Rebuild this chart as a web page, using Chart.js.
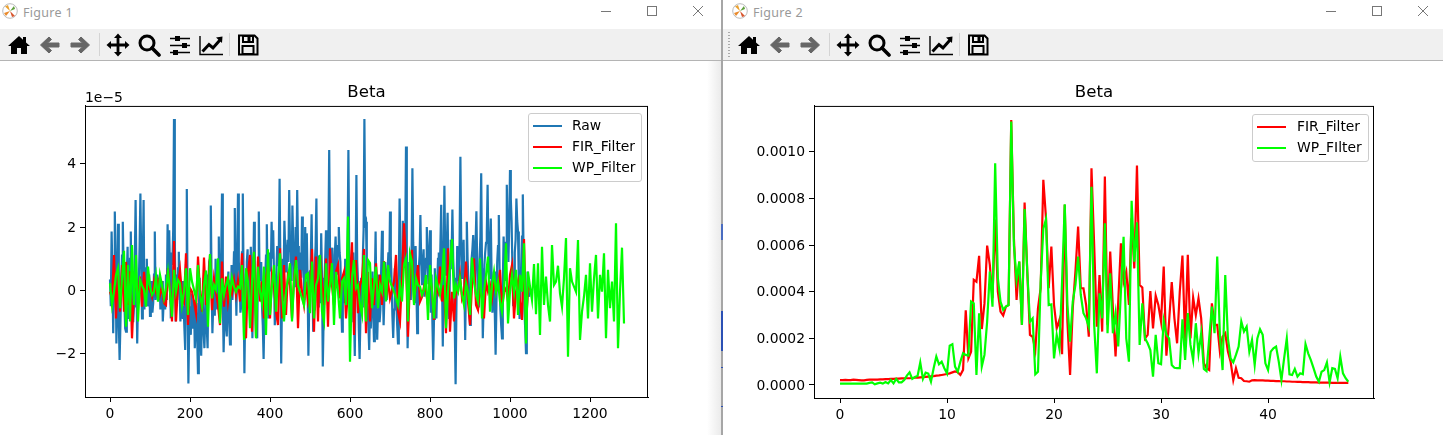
<!DOCTYPE html>
<html>
<head>
<meta charset="utf-8">
<title>Beta</title>
<script src="https://cdn.jsdelivr.net/npm/chart.js@4/dist/chart.umd.min.js"></script>
<style>
  html, body { margin: 0; padding: 0; background: #fff; }
  body { width: 1443px; height: 435px; position: relative; overflow: hidden; font-family: "DejaVu Sans", sans-serif; }
  .abs { position: absolute; }
  canvas { position: absolute; top: 61px; }
  .toolbar { position: absolute; top: 29px; height: 31px; background: #f0f0f0; border-bottom: 1px solid #b4b4b4; }
  .wintitle { position: absolute; top: 4px; font: 12.5px "Noto Sans", sans-serif; color: #999; letter-spacing: .3px; }
  .sep { position: absolute; top: 33px; width: 1px; height: 23px; background: #d4d4d4; }
  .icon { position: absolute; top: 33px; width: 24px; height: 24px; }
  .logo { position: absolute; top: 3px; width: 16px; height: 16px; }
  .ctl { position: absolute; top: 5px; width: 12px; height: 12px; }
  .divider { position: absolute; left: 721px; top: 0; width: 2px; height: 435px; background: #a6a6a6; }
  .shadow { position: absolute; left: 707px; top: 29px; width: 14px; height: 406px; background: linear-gradient(to right, rgba(235,235,235,0), rgba(235,235,235,1)); }
  .grip { position: absolute; left: 728px; top: 32px; width: 2px; height: 26px; background: repeating-linear-gradient(to bottom, #aaa 0 1px, transparent 1px 3px); }
  .legend { position: absolute; background: rgba(255,255,255,.8); border: 1px solid #ccc; border-radius: 3px; box-sizing: border-box; }
  .legend .row { position: absolute; left: 0; right: 0; height: 21px; }
  .legend .swatch { position: absolute; height: 2px; }
  .legend .name { position: absolute; font-size: 13.9px; line-height: 21px; color: #000; white-space: nowrap; }
  .offset { position: absolute; left: 85px; top: 89px; font-size: 13.9px; line-height: 16px; color: #000; }
</style>
</head>
<body>

<svg width="0" height="0" style="position:absolute">
  <symbol id="i-home" viewBox="0 0 24 24"><path d="M12 3 L1 13 L4 13 L4 21 L10 21 L10 15 L14 15 L14 21 L20 21 L20 13 L23 13 L19 9.4 L19 4 L16 4 L16 6.7 Z" fill="#000"/></symbol>
  <symbol id="i-left" viewBox="0 0 24 24"><path d="M11 4 L2.5 12 L11 20 L13.5 17.5 L9.5 14 L21 14 L21 10 L9.5 10 L13.5 6.5 Z" fill="#666" stroke="#666" stroke-linejoin="round"/></symbol>
  <symbol id="i-right" viewBox="0 0 24 24"><path d="M13 4 L21.5 12 L13 20 L10.5 17.5 L14.5 14 L3 14 L3 10 L14.5 10 L10.5 6.5 Z" fill="#666" stroke="#666" stroke-linejoin="round"/></symbol>
  <symbol id="i-move" viewBox="0 0 24 24"><path d="M12 0.5 L16 5 L13.4 5 L13.4 10.6 L19 10.6 L19 8 L23.5 12 L19 16 L19 13.4 L13.4 13.4 L13.4 19 L16 19 L12 23.5 L8 19 L10.6 19 L10.6 13.4 L5 13.4 L5 16 L0.5 12 L5 8 L5 10.6 L10.6 10.6 L10.6 5 L8 5 Z" fill="#000"/></symbol>
  <symbol id="i-zoom" viewBox="0 0 24 24"><circle cx="10" cy="10" r="7" fill="none" stroke="#000" stroke-width="3"/><path d="M15 15 L22 22" stroke="#000" stroke-width="3.6" stroke-linecap="round"/></symbol>
  <symbol id="i-sliders" viewBox="0 0 24 24"><path d="M2 5.5 H22 M2 12.5 H22 M2 19.5 H22" stroke="#000" stroke-width="1.6"/><rect x="7" y="3" width="5" height="5" fill="#000"/><rect x="14" y="10" width="5" height="5" fill="#000"/><rect x="5" y="17" width="5" height="5" fill="#000"/></symbol>
  <symbol id="i-chart" viewBox="0 0 24 24"><path d="M1 3 V21.5 H24" fill="none" stroke="#000" stroke-width="1.4"/><path d="M3.5 18.5 L10 11.5 L14 15 L21 7" fill="none" stroke="#000" stroke-width="3"/><path d="M17 4.5 L23.5 3.5 L23 10 Z" fill="#000"/></symbol>
  <symbol id="i-save" viewBox="0 0 24 24"><path d="M3 2.5 H18.5 L21.5 5.5 V21.5 H3 Z" fill="none" stroke="#000" stroke-width="2"/><rect x="7" y="3" width="10" height="6" fill="none" stroke="#000" stroke-width="2"/><rect x="11.5" y="4" width="3" height="4" fill="#000"/><rect x="6.5" y="13" width="11" height="8" fill="none" stroke="#000" stroke-width="2"/></symbol>
  <symbol id="i-logo" viewBox="0 0 16 16"><circle cx="8" cy="8" r="7.3" fill="#fff" stroke="#bbb"/><path d="M8 8 L3 3.5 L6 2 Z" fill="#e8a030"/><path d="M8 8 L13 6 L12 3 Z" fill="#5fa03c"/><path d="M8 8 L2 10 L4 13 Z" fill="#e98a2c"/><path d="M8 8 L13 13 L10 14 Z" fill="#d8552c"/></symbol>
</svg>

<div class="shadow"></div>
<div class="toolbar" style="left:0;width:721px"></div>
<div class="toolbar" style="left:723px;width:720px"></div>
<div class="divider"></div>
<div class="abs" style="left:721px;top:224px;width:2px;height:16px;background:#4a6cc0"></div>
<div class="abs" style="left:721px;top:311px;width:2px;height:40px;background:#2b50b4"></div>
<div class="abs" style="left:721px;top:367px;width:2px;height:1px;background:#2b50b4"></div>
<div class="abs" style="left:721px;top:406px;width:2px;height:1px;background:#2b50b4"></div>

<svg class="logo" style="left:2px"><use href="#i-logo"/></svg>
<div class="wintitle" style="left:23px">Figure 1</div>
<svg class="logo" style="left:732px"><use href="#i-logo"/></svg>
<div class="wintitle" style="left:753px">Figure 2</div>

<svg class="ctl" style="left:600px"><path d="M1 6.5 H11" stroke="#777"/></svg>
<svg class="ctl" style="left:646px"><rect x="1.5" y="1.5" width="9" height="9" fill="none" stroke="#777"/></svg>
<svg class="ctl" style="left:692px"><path d="M1 1 L11 11 M11 1 L1 11" stroke="#777"/></svg>
<svg class="ctl" style="left:1325px"><path d="M1 6.5 H11" stroke="#777"/></svg>
<svg class="ctl" style="left:1371px"><rect x="1.5" y="1.5" width="9" height="9" fill="none" stroke="#777"/></svg>
<svg class="ctl" style="left:1417px"><path d="M1 1 L11 11 M11 1 L1 11" stroke="#777"/></svg>

<svg class="icon" style="left:7px"><use href="#i-home"/></svg>
<svg class="icon" style="left:38px"><use href="#i-left"/></svg>
<svg class="icon" style="left:68px"><use href="#i-right"/></svg>
<div class="sep" style="left:99px"></div>
<svg class="icon" style="left:106px"><use href="#i-move"/></svg>
<svg class="icon" style="left:137px"><use href="#i-zoom"/></svg>
<svg class="icon" style="left:168px"><use href="#i-sliders"/></svg>
<svg class="icon" style="left:199px"><use href="#i-chart"/></svg>
<div class="sep" style="left:229px"></div>
<svg class="icon" style="left:236px"><use href="#i-save"/></svg>

<div class="grip"></div>
<svg class="icon" style="left:737px"><use href="#i-home"/></svg>
<svg class="icon" style="left:768px"><use href="#i-left"/></svg>
<svg class="icon" style="left:798px"><use href="#i-right"/></svg>
<div class="sep" style="left:829px"></div>
<svg class="icon" style="left:836px"><use href="#i-move"/></svg>
<svg class="icon" style="left:867px"><use href="#i-zoom"/></svg>
<svg class="icon" style="left:898px"><use href="#i-sliders"/></svg>
<svg class="icon" style="left:929px"><use href="#i-chart"/></svg>
<div class="sep" style="left:959px"></div>
<svg class="icon" style="left:966px"><use href="#i-save"/></svg>

<canvas id="chart1" width="721" height="374" style="left:0"></canvas>
<canvas id="chart2" width="720" height="374" style="left:723px"></canvas>

<div class="offset">1e−5</div>
<div class="legend" id="legend1" style="left:528px;top:113px;width:114px;height:69px"></div>
<div class="legend" id="legend2" style="left:1252px;top:114px;width:117px;height:48px"></div>

<script>
// =====================
// Data
// =====================

// Figure 1: one value every few samples, in units of 1e-5
const rawStep = 2;
const filterStep = 5;

const rawValues = [
  .35, -.5, 1.86, .6, -1.35, .4, 2.49, 1, -1.67, -.3, 2.1, -1, -2.19, -1.1, .2, 1.1, 2.17, .7, -.4, -1.2, -1.3, .5, 1.38, -.9, -.5, 1, 1.86, -.6, .3, -1, -.5, .9,
  2.85, .6, -1.67, -.3, .2, 1.4, 3.06, 1, -.88, .9, 2.85, -.6, .1, .7, 1, -.5, -.3, .5, -.8, -.2, .3, -.7, -.4, .5, 1.86, -.3, 0, .5, -.25, .2, .4, -.6,
  -.3, .3, -.98, -.4, -.2, -.6, .5, -.3, 2.09, .4, 1.9, .6, -.88, 1.2, .8, 1.9, 5.41, 1.8, -.98, .5, -.3, .7, 1.22, .1, -.98, -.4, .3, -.9, -.5, -1.2, -1.88, .8,
  3.2, -.3, -2.93, -1.1, -.5, -1.4, -.1, -1.2, -.98, -.3, -1.82, -1.1, -.4, -1.5, -2.61, -.8, .4, -1.4, -2.06, -.6, 0, -1.3, -1.82, -.9, .5, -1.2, -1.82, .3, .9, 1, 2.68, .2,
  -1.35, -.5, .3, -.8, 1, .2, -.6, .7, 1.7, -.7, -.5, 1.1, 3.06, -.2, -1.95, -.9, 0, -1.1, -1.45, .1, .6, -1, -1.7, -.4, .8, -.3, .2, 1.2, 2.6, .4, -.8, .9,
  3.06, .9, .5, -.7, -.5, 1.2, 3.06, .3, -2.61, -.6, .5, .9, 1.3, -.4, .2, .9, 1.38, .2, -1.51, .4, 2.17, .8, -.5, -1, -1.51, .9, 2.49, .3, .6, .9, -.5, -1.1,
  -2.16, -.7, .4, 1.1, 2.09, .3, -.88, .4, 1.2, .6, 2.17, 1, 1.9, .5, -1.1, -.2, .6, 1.4, .8, 1.2, 3.52, .6, -2.3, -.3, 1, .4, 2.2, 1.3, .6, 1.1, 1.6, .9,
  3.17, 1.5, 1.2, .3, 2.68, 1.5, .8, .1, 2, .7, 3.17, 1.4, .9, .2, 1.2, .4, 2.33, 1, .6, -.3, 2, .4, 1.8, .2, -2.06, -.5, .6, .9, 2.4, .4, -1.3, -.6,
  .8, 1.4, 2.9, .3, -.5, 1.1, .8, -.4, 1.8, .4, -2.4, -.9, .2, 1, 1.9, .1, .9, 1.5, 4.43, 1.3, .2, 1.2, 1.35, -.2, .3, 1.1, 1.7, .8, .5, 1.4, 2, 1.2,
  .9, -.3, -1.3, .2, .5, -.4, 1, -.3, .2, 1.5, 4.43, 1.2, .3, -.4, -1, .5, 1.2, -.8, -2.07, .6, 3.64, .9, .3, -1.2, -2.16, -.9, .4, -.5, 1, 1.9, 5.41, 2.1,
  2.17, .6, -.5, -1.1, -1.88, -.5, -1.2, -.4, .6, -.7, -1.6, .2, 1.86, -.5, -1.55, -.6, .5, -1, -.6, .7, 1.88, .3, -1.1, -.2, .9, .2, -.3, .6, 1.2, .4, 2.49, 1.1,
  .3, -.8, -1.5, -.6, .7, -.3, -.4, -1.1, -1.67, .4, 2.9, 1.3, .1, 1, 2.2, 1.2, .8, 1.5, 4.54, 1.4, -1.82, -.4, .9, .2, -.3, 1.2, 3.85, 1.5, .8, -.4, 1.4, .1,
  -1.35, -.3, .7, 1.1, 2.38, .9, .2, .8, 1.3, -.2, .4, 1, 2, .9, .2, 1.2, 1.9, -.7, .5, -1, -2.19, -.9, .7, -.5, -.88, .2, 1, 1.2, .3, 1.4, 2.7, .4,
  -1.77, .9, 3.3, 1.2, .5, 1.3, 2.45, .5, -.9, .7, 1.6, 1.1, 2.55, 1, .4, -1.2, -2.96, -.6, 1.4, .8, .3, 1.6, 4.22, 1.6, .4, .9, 1.6, .1, -1.56, .5, 2.17, 1,
  .3, -.6, -1.09, .2, 1, 1.3, 1.75, 1.1, .2, 1.5, 2.5, .8, -.5, -.2, 1, 1.7, 3.7, .7, -1.51, -.5, .8, 1.2, 1.5, 1.8, 3.33, 1.3, .4, 1.4, 2.27, .4, -.7, -.2,
  .6, -.7, -2.03, -.5, .9, 1.4, 2.38, .6, -.6, -1.1, -1.51, .2, 1.7, .9, .3, 1.5, 3.33, 1.8, .9, 2, 3.8, 2.9, 2.17, .7, -.5, .4, 1.2, 1.6, 2.9, 2.2, 1.86, .3,
  -.9, 0, .8, 1.7, 3.03, 1.1, -.6, -1.2, -1.98, -.8, .6, .1, -.2
];

const firValues = [
  -.04, -.25, 1.12, -.88, .6, -.67, .8, -.67, .9, -.46, .6, -1.51, -.04, .38, -.35, .44,
  -.51, .59, -.14, .12, .02, -.2, .28, -.04, .28, -.14, .12, -.4, -.46, .7, -.04, -.98,
  1.56, -.98, .17, .65, -.14, -.35, 1.17, -1.09, .07, -.04, -.35, -.72, 1.07, -.04, -.67, 1.04,
  -.46, -.04, 1.12, -.62, .38, -.04, -.46, -1.09, .91, -.51, .44, -.35, .17, -.09, .33, -.14,
  .33, -.35, 1.17, -.67, -1.51, .59, 1.12, -1.3, 1.22, -1.46, 1.07, -.35, .28, -.88, .38, .8,
  -.88, .49, .17, -.67, -1.09, 1.33, -.88, .8, -.77, .59, .17, -.88, .38, 1.07, -1.19, .65,
  -.04, -.46, .28, -.35, -.04, 1.31, -1.3, 1.07, -.98, 1.12, .17, -.46, 1.01, -1.14, 1.33, .17,
  -.46, .59, .8, -.25, .38, .59, -.88, -.04, .38, 1.52, -1.4, .96, -.72, .17, .38, 1.31,
  -1.35, .59, -.98, .38, -.46, .86, -.2, .49, -.46, .93, -.25, .28, -.25, .02, .28, 1.12,
  -.67, -.98, .38, 2.12, .9, -1.46, .38, 1.28, -.35, .17, .8, -.35, -.2, .12, -.04, -.46,
  .49, -.04, -.93, .17, -.04, .75, -.35, .17, -1.35, 1.33, -1.3, -.04, -.98, .07, -.04, .49,
  -.25, -.04, .91, -.35, -1.09, .17, 1.01, -.46, -.62, .07, -.25, -.88, .28, -.04, .17, -.25,
  .28, -.04, .17, .65, -.51, -.04, .07, -.35, .49, .8, -.88, -.04, .28, -.35, -.93, 1.62,
  -.98, -.04, .17
];

const wpValues = [
  .23, -.46, -.04, .49, .7, -.56, .38, 1.25, -1.14, .8, -.98, 1.43, -.46, 1.12, -.98, .33,
  .17, .02, -.51, .75, .12, -.14, -.04, .44, -.35, .49, .17, -.25, .07, .59, -.04, -.83,
  .65, -.04, .33, .23, -.46, -.04, .7, -.77, .7, .28, .02, -.25, .8, -.14, -.51, .17,
  .63, -1.14, 1.15, -.25, .17, .02, 1.01, -1.04, .38, -.14, .17, .38, -.14, .4, .12, -.04,
  .12, .07, .8, -1.56, .7, .28, -1.19, .28, 1.22, -1.51, .75, -.04, -.4, .75, -1.4, 1.3,
  -.77, .17, .8, -.67, .38, 1.17, -.04, -.98, -.04, .38, .86, -.98, .28, .96, .17, -.04,
  -.25, -.46, .49, .54, -.72, .91, -.88, .17, .38, 1.12, -.67, -.98, .86, -.35, .17, .86,
  -1.09, .59, -.04, -.88, .28, .38, -.46, 2.33, -2.25, .38, .96, .07, .17, -.46, -.77, 1.12,
  -.98, .96, .86, -.56, .17, .75, -.56, .17, -.04, .91, -.35, .8, .28, .12, -.04, -.25,
  -.46, .17, -.35, .8, 1.01, -.98, 1.17, .91, -.46, .38, .17, .12, -.14, .02, .49, -.93,
  .8, -.04, -.88, .38, .12, -.14, .38, 1.33, -1.19, -.04, .8, 1.62, -.25, .17, -.04, .38,
  -.14, -.46, .23, -.04, -.77, 1.04, .28, -.14, -.35, 1.01, -.88, -.04, .49, 1.07, -.67, .17,
  .59, -.04, .28, -.35, -.67, -.04, 1.49, -1.04, -.04, .49, -.04, .65, -.77, .49, -.04, 1.49,
  -1.67, .59, .12, -.3, .83, -.75, .86, -1.4, 1.38, -.46, .44, -.46, -.98, 1.43, .17, .28,
  .78, -.09, -.51, .38, 1.65, -2.09, .7, .28, .12, -.04, 1.59, -1.56, -.67, -.19, .49, -.88,
  .86, -.67, .38, 1.12, -.88, .49, -.04, 1.17, -1.51, .65, -.56, .28, -.98, 2.12, -1.82, -.04,
  1.35, -1.04
];

const xTicks1 = [0, 200, 400, 600, 800, 1000, 1200];
const yTicks1 = [-2, 0, 2, 4];

// Figure 2: one value every quarter unit of x
const spectrumStep = 0.25;

const firSpectrum = [
  .000021, .000021, .000022, .000021, .000021, .000023, .000022, .000021, .00002, .00002, .000022, .000023, .000023, .000023, .000023, .000024,
  .000024, .000025, .000025, .000026, .000026, .000027, .000027, .000028, .000028, .000029, .000029, .00003, .000031, .000032, .000033, .000034,
  .000035, .000036, .000037, .000038, .00004, .000041, .000043, .000045, .000047, .00005, .000054, .000058, .000055, .000043, .000065, .00032,
  .000114, .000142, .000451, .000443, .000554, .00024, .00035, .000598, .000515, .000372, .00071, .0004, .000315, .000298, .000336, .000343,
  .001137, .00063, .000365, .000529, .000258, .000783, .000486, .000215, .000207, .00015, .000329, .000415, .00088, .000715, .000415, .000594,
  .000343, .000243, .000279, .000132, .000773, .000272, .000043, .000329, .000486, .00068, .000415, .000415, .000343, .000207, .00093, .0006,
  .00025, .000472, .000229, .000894, .000258, .000572, .000329, .000122, .000358, .000608, .000443, .000486, .000343, .000715, .0005, .000941,
  .000429, .000418, .0002, .000215, .000403, .000243, .000383, .000343, .000272, .000508, .000126, .000272, .000441, .000286, .000179, .0004,
  .000555, .000186, .000558, .0002, .000375, .0003, .000372, .000286, .000093, .000072, .000064, .00035, .000258, .000258, .000143, .000207,
  .000222, .000143, .0001, .000021, .000072, .000031, .000029, .000017, .000016, .000014, .00002, .000021, .00002, .00002, .00002, .000019,
  .000019, .000018, .000018, .000017, .000017, .000016, .000016, .000015, .000015, .000014, .000014, .000013, .000013, .000012, .000012, .000012,
  .000011, .000011, .000011, .00001, .00001, .00001, .00001, .00001, .000009, .000009, .000009, .000009, .000009, .000009, .000009
];

const wpSpectrum = [
  .000006, .000006, .000006, .000006, .000006, .000006, .000006, .000006, .000006, .000006, .000006, .000009, .000011, .000003, .000007, .00001,
  .000006, .000013, .000007, .000021, .000007, .000026, .000011, .000011, .000021, .00004, .000054, .000026, .000034, .000039, .000097, .000026,
  .000053, .000049, .000014, .000072, .000122, .000089, .0001, .000072, .00005, .000169, .000175, .000079, .000057, .0001, .000136, .000129,
  .000126, .000358, .00035, .000043, .000308, .000079, .000129, .000272, .000486, .000336, .000951, .000458, .000358, .000322, .000336, .000343,
  .00113, .0006, .000451, .000529, .000258, .000755, .000486, .000272, .000286, .000046, .000057, .00044, .00067, .000711, .000343, .000346,
  .000114, .000215, .000157, .000443, .000775, .000343, .000186, .000358, .000429, .000551, .000386, .000308, .000286, .00025, .00085, .000258,
  .00005, .000393, .000286, .000694, .000222, .000479, .000222, .000308, .000165, .0004, .000636, .0002, .0001, .00079, .000529, .000698,
  .000172, .00035, .0002, .000179, .00015, .000036, .000215, .000093, .000089, .000275, .000215, .0002, .000086, .000074, .000072, .000072,
  .000282, .000107, .000308, .000172, .000107, .000265, .000136, .000222, .000069, .00006, .0002, .000336, .000222, .000551, .000215, .000064,
  .000472, .0002, .000114, .000097, .000129, .000165, .000272, .000229, .00025, .000143, .000193, .000086, .0002, .000239, .000215, .000093,
  .000064, .000143, .000157, .000165, .0001, .000021, .000114, .0002, .000046, .000043, .000069, .000036, .00005, .000046, .000175, .000136,
  .000107, .000072, .000036, .000014, .000057, .000064, .000097, .000011, .000072, .000069, .000029, .000122, .00005, .000029, .000014
];

const xTicks2 = [0, 10, 20, 30, 40];
const yTicks2 = [0, 0.0002, 0.0004, 0.0006, 0.0008, 0.001];

const legend1Names = ["Raw", "FIR_Filter", "WP_Filter"];
const legend1Colors = ["#1f77b4", "#ff0000", "#00ff00"];
const legend2Names = ["FIR_Filter", "WP_FIlter"];
const legend2Colors = ["#ff0000", "#00ff00"];

// =====================
// Helpers
// =====================

const toPoints = (values, step) => values.map((y, i) => ({ x: i * step, y }));

const minusSign = text => String(text).replace("-", "\u2212");

// matplotlib draws all four spines, Chart.js only the two axes
const boxPlugin = {
  id: "box",
  afterDatasetsDraw(chart) {
    const { ctx, chartArea: a } = chart;
    ctx.save();
    ctx.strokeStyle = "#000";
    ctx.lineWidth = 1;
    ctx.strokeRect(a.left + .5, a.top + .5, a.right - a.left - 1, a.bottom - a.top);
    ctx.restore();
  }
};

function axis(min, max, ticks, format, size, labelOffset) {
  return {
    type: "linear",
    min,
    max,
    afterBuildTicks: scale => { scale.ticks = ticks.map(value => ({ value })); },
    afterFit: scale => {
      if (scale.isHorizontal()) scale.height = size;
      else scale.width = size;
    },
    border: { color: "#000", width: 1 },
    grid: {
      drawOnChartArea: false,
      drawTicks: true,
      tickLength: 5,
      // only the listed ticks get a mark, not the end of the axis
      tickColor: c => (c.tick && ticks.includes(c.tick.value) ? "#000" : "rgba(0,0,0,0)")
    },
    ticks: {
      color: "#000",
      padding: 4,
      maxRotation: 0,
      autoSkip: false,
      labelOffset,
      font: { family: "DejaVu Sans", size: 13.9 },
      callback: format
    }
  };
}

function makeChart(id, datasets, x, y, rightPad) {
  return new Chart(document.getElementById(id), {
    type: "line",
    data: { datasets },
    options: {
      responsive: false,
      animation: false,
      layout: { padding: { top: 0, right: rightPad, bottom: 0, left: 0 } },
      elements: { point: { radius: 0 }, line: { borderWidth: 2.2, tension: 0 } },
      plugins: {
        legend: { display: false },
        tooltip: { enabled: false },
        title: {
          display: true,
          fullSize: false,
          text: "Beta",
          color: "#000",
          font: { family: "DejaVu Sans", size: 16.6, weight: "normal" },
          padding: { top: 22, bottom: 3 }
        }
      },
      scales: { x, y }
    },
    plugins: [boxPlugin]
  });
}

function fillLegend(id, names, colors, nameLeft, lineWidth, firstRow) {
  const box = document.getElementById(id);
  names.forEach((name, i) => {
    const row = document.createElement("div");
    row.className = "row";
    row.style.top = (firstRow + i * 21) + "px";
    row.innerHTML = `
      <div class="swatch" style="left:4px;top:10px;width:${lineWidth}px;background:${colors[i]}"></div>
      <div class="name" style="left:${nameLeft}px">${name}</div>
    `;
    box.appendChild(row);
  });
}

// =====================
// Figure 1
// =====================

makeChart("chart1", [
  { label: legend1Names[0], data: toPoints(rawValues, rawStep), borderColor: legend1Colors[0], order: 3 },
  { label: legend1Names[1], data: toPoints(firValues, filterStep), borderColor: legend1Colors[1], order: 2 },
  { label: legend1Names[2], data: toPoints(wpValues, filterStep), borderColor: legend1Colors[2], order: 1 }
],
  axis(-62.5, 1345, xTicks1, v => minusSign(v), 38, 0),
  axis(-3.36, 5.82, yTicks1, v => minusSign(v), 85, 1),
  73
);

fillLegend("legend1", legend1Names, legend1Colors, 43, 29, 1);

// =====================
// Figure 2
// =====================

makeChart("chart2", [
  { label: legend2Names[0], data: toPoints(firSpectrum, spectrumStep), borderColor: legend2Colors[0], order: 2 },
  { label: legend2Names[1], data: toPoints(wpSpectrum, spectrumStep), borderColor: legend2Colors[1], order: 1 }
],
  axis(-2.43, 49.9, xTicks2, v => v, 37, 0),
  axis(-0.0000558, 0.001197, yTicks2, v => v.toFixed(4), 91, 1),
  69
);

fillLegend("legend2", legend2Names, legend2Colors, 44, 29, 1);
</script>
</body>
</html>
